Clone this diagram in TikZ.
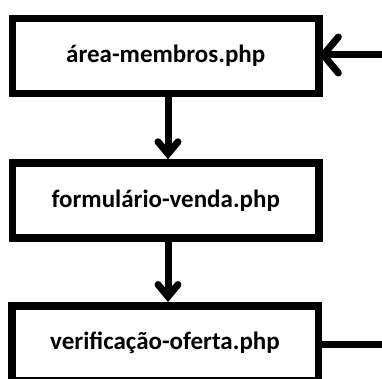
\documentclass[tikz,border=0pt]{standalone}
\usepackage{fontspec}
\setmainfont{Carlito}
\usetikzlibrary{arrows.meta}

\begin{document}
\begin{tikzpicture}[x=1pt,y=1pt,
  pagina/.style={draw,line width=7.5pt,minimum width=306.5pt,minimum height=75pt,inner sep=0pt,font=\fontsize{25}{28}\selectfont\bfseries},
  seta/.style={line width=7pt,-{Straight Barb[length=15pt,width=36pt,line cap=round]}},
  setabaixo/.style={line width=7pt,-{Straight Barb[length=12pt,width=20pt,line cap=round]}}]
\useasboundingbox (0,0) rectangle (382,378);
\node[pagina] (membros) at (165.75,322) {área-membros.php};
\node[pagina] (formulario) at (165.75,177.5) {formulário-venda.php};
\node[pagina] (oferta) at (165,34.75) {verificação-oferta.php};
\coordinate (entrada) at (382,323);
\coordinate (saida) at (382,33.5);
\draw[seta] (entrada) -- ([xshift=-4pt]entrada -| membros.east);
\draw[setabaixo] ([xshift=2.25pt]membros.south) -- ([xshift=2.25pt]formulario.north);
\draw[setabaixo] ([xshift=2.25pt]formulario.south) -- ([xshift=3pt]oferta.north);
\draw[line width=7.5pt] (saida -| oferta.east) -- (saida);
\end{tikzpicture}
\end{document}
